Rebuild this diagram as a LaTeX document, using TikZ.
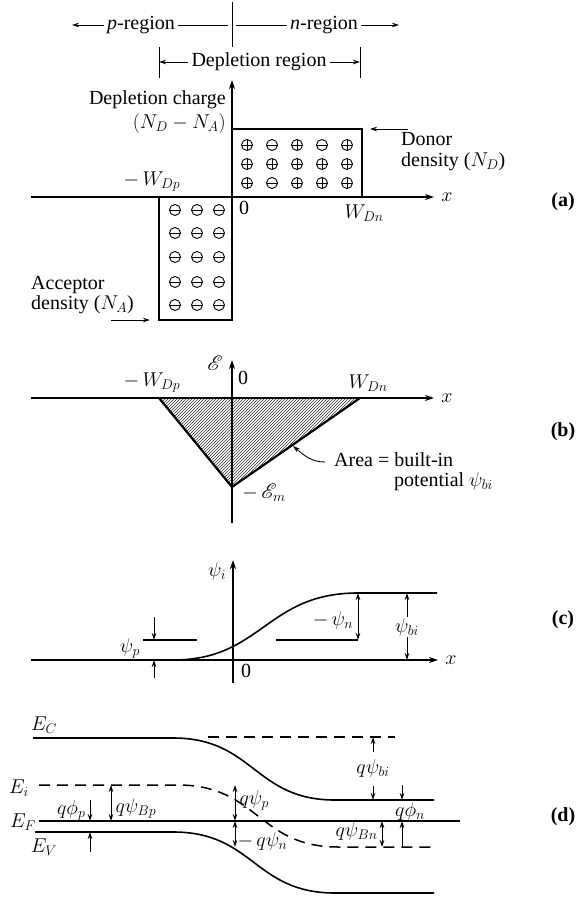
\documentclass[tikz,border=0pt]{standalone}
\usepackage{fix-cm}
\usepackage{amsmath}
\usepackage{amssymb}
\usepackage{mathrsfs}
\usepackage{fontspec}
\setmainfont{Liberation Serif}
\usepackage{tikz}
\usetikzlibrary{arrows.meta,patterns}

\tikzset{
  axisline/.style={line width=1.5pt,-{Stealth[length=9pt,width=6pt]}},
  band/.style={line width=1.6pt},
  boxline/.style={line width=2.2pt},
  lvl/.style={line width=1.5pt,dash pattern=on 11pt off 7pt},
  onearrow/.style={line width=0.9pt,-{Stealth[length=7pt,width=4.5pt]}},
  twoarrow/.style={line width=0.9pt,{Stealth[length=7pt,width=4.5pt]}-{Stealth[length=7pt,width=4.5pt]}},
  ion/.style={circle,draw,line width=0.9pt,inner sep=0pt,minimum size=11pt},
  plusion/.style={ion,path picture={\draw[line width=0.9pt]
    (path picture bounding box.west) -- (path picture bounding box.east)
    (path picture bounding box.north) -- (path picture bounding box.south);}},
  minusion/.style={ion,path picture={\draw[line width=0.9pt]
    (path picture bounding box.west) -- (path picture bounding box.east);}},
  twoline/.style={inner sep=1pt,font=\fontsize{20}{#1}\selectfont},
}

\begin{document}
\begin{tikzpicture}[x=1pt,y=-1pt,font=\fontsize{20}{22}\selectfont]
            \path[use as bounding box,fill=white] (0,0) rectangle (576,897);

            % (a) charge
            \node (preg) at (141,25) {\textit{p}-region};
            \node (nreg) at (324,25) {\textit{n}-region};
            \coordinate (pend) at (72,25);
            \coordinate (pdiv) at (228,25);
            \coordinate (ndiv) at (236,25);
            \coordinate (nend) at (399,25);
            \coordinate (divtop) at (232,2);
            \coordinate (divbot) at (232,47);
            \draw[onearrow] (preg.west) -- (pend);
            \draw[line width=0.9pt] (preg.east) -- (pdiv);
            \draw[line width=0.9pt] (ndiv) -- (nreg.west);
            \draw[onearrow] (nreg.east) -- (nend);
            \draw[line width=1pt] (divtop) -- (divbot);

            \node (dep) at (259,62) {Depletion region};
            \coordinate (depl) at (159,62);
            \coordinate (depr) at (360,62);
            \draw[line width=1pt] (159,47) -- (159,78);
            \draw[line width=1pt] (360,47) -- (360,78);
            \draw[onearrow] (dep.west) -- (depl);
            \draw[onearrow] (dep.east) -- (depr);

            \coordinate (o1) at (232,197);
            \coordinate (a1top) at (232,80);
            \coordinate (a1l) at (31,197);
            \coordinate (a1r) at (434,197);
            \coordinate (wdp) at (159,197);
            \coordinate (wdn) at (362,197);
            \draw[axisline] (a1l) -- (a1r);
            \draw[axisline] (o1) -- (a1top);
            \draw[boxline] (o1) -- (232,129) -- (362,129) -- (wdn);
            \draw[boxline] (wdp) -- (159,320) -- (232,320) -- (o1);

            \foreach \s [count=\i] in {plusion,minusion,plusion,minusion,plusion}
                \node[\s] (donA\i) at ({222+25*\i},145) {};
            \foreach \s [count=\i] in {plusion,plusion,plusion,plusion,plusion}
                \node[\s] (donB\i) at ({222+25*\i},164) {};
            \foreach \s [count=\i] in {plusion,minusion,plusion,plusion,plusion}
                \node[\s] (donC\i) at ({222+25*\i},183) {};
            \foreach \y [count=\j] in {210,233,257,282,305}
                \foreach \x [count=\i] in {175,197,219}
                    \node[minusion] (acc\j\i) at (\x,\y) {};

            \node[twoline=24,align=right,anchor=east] (dch) at (227,112) {Depletion charge\\$(N_D-N_A)$};
            \node[twoline=21,align=left,anchor=west] (don) at (400,152) {Donor\\density ($N_D$)};
            \coordinate (dontail) at (408,129);
            \coordinate (dontip) at (370,129);
            \draw[onearrow] (dontail) -- (dontip);
            \node[twoline=17,align=left,anchor=west] (acc) at (30,295) {Acceptor\\density ($N_A$)};
            \coordinate (acctail) at (111,320);
            \coordinate (acctip) at (150,320);
            \draw[onearrow] (acctail) -- (acctip);
            \node (lwdp) at (152,182) {$-\,W_{Dp}$};
            \node (lz1) at (244,208) {0};
            \node (lwdn) at (364,213) {$W_{Dn}$};
            \node (lx1) at (447,197) {$x$};
            \node (la) at (563,202) {\textbf{(a)}};

            % (b) field
            \coordinate (o2) at (232,398);
            \coordinate (b2l) at (31,398);
            \coordinate (b2r) at (434,398);
            \coordinate (b2bot) at (232,523);
            \coordinate (b2top) at (232,360);
            \coordinate (wdp2) at (159,398);
            \coordinate (wdn2) at (360,398);
            \coordinate (em) at (232,487);
            \fill[pattern=north east lines,pattern color=black!80] (wdp2) -- (wdn2) -- (em) -- cycle;
            \draw[axisline] (b2l) -- (b2r);
            \draw[axisline] (b2bot) -- (b2top);
            \draw[boxline] (wdp2) -- (em) -- (wdn2);
            \node (lfield) at (215,363) {$\mathscr{E}$};
            \node (lz2) at (243,378) {0};
            \node (lwdp2) at (152,383) {$-\,W_{Dp}$};
            \node (lwdn2) at (368,383) {$W_{Dn}$};
            \node (lem) at (264,493) {$-\,\mathscr{E}_m$};
            \node (lx2) at (447,398) {$x$};
            \node[twoline=20,align=left,anchor=north west] (area) at (333,451) {Area = built-in\\\hspace*{60pt}potential $\psi_{bi}$};
            \coordinate (areafoot) at (325,462);
            \coordinate (areatip) at (293,446);
            \draw[onearrow] (areafoot) to[out=180,in=-40] (areatip);
            \node (lb) at (563,432) {\textbf{(b)}};

            % (c) potential
            \coordinate (o3) at (233,660);
            \coordinate (c3l) at (31,660);
            \coordinate (c3r) at (438,660);
            \coordinate (c3bot) at (233,683);
            \coordinate (c3top) at (233,560);
            \draw[axisline] (c3l) -- (c3r);
            \draw[axisline] (c3bot) -- (c3top);
            \draw[band] (173,660) .. controls (262,660) and (266,593) .. (358,593) -- (437,593);
            \node (lpsi) at (217,571) {$\psi_i$};
            \node (lz3) at (246,671) {0};
            \node (lx3) at (451,660) {$x$};

            \draw[line width=1.2pt] (143,640) -- (197,640);
            \draw[onearrow] (154,617) -- (154,640);
            \draw[onearrow] (154,678) -- (154,660);
            \node (lpsip) at (130,648) {$\psi_p$};
            \draw[line width=1.2pt] (276,640) -- (358,640);
            \draw[twoarrow] (358,593) -- (358,640);
            \node (lpsin) at (333,620) {$-\,\psi_n$};
            \draw[twoarrow] (407,593) -- (407,660);
            \node[fill=white,inner sep=1pt] (lpsibi) at (407,627) {$\psi_{bi}$};
            \node (lc) at (563,620) {\textbf{(c)}};

            % (d) band diagram
            \draw[band] (33,738) -- (173,738) .. controls (254,738) and (254,800) .. (335,800) -- (434,800);
            \draw[lvl] (208,737) -- (395,737);
            \draw[lvl] (39,785) -- (178,785) .. controls (258,785) and (258,847) .. (338,847) -- (434,847);
            \draw[line width=1.3pt] (39,821) -- (460,821);
            \draw[band] (35,832) -- (173,832) .. controls (254,832) and (254,893) .. (335,893) -- (434,893);
            \node (lec) at (44,725) {$E_C$};
            \node (lei) at (19,788) {$E_i$};
            \node (lef) at (23,822) {$E_F$};
            \node (lev) at (44,847) {$E_V$};

            \draw[onearrow] (90,800) -- (90,821);
            \draw[onearrow] (90,852) -- (90,832);
            \node[anchor=east] (lqphip) at (89,810) {$q\phi_p$};
            \draw[twoarrow] (111,785) -- (111,821);
            \node[anchor=west] (lqpsibp) at (112,808) {$q\psi_{Bp}$};
            \draw[twoarrow] (235,785) -- (235,821);
            \node[anchor=west] (lqpsip) at (236,800) {$q\psi_p$};
            \draw[twoarrow] (235,821) -- (235,847);
            \node[anchor=west] (lqpsin) at (234,841) {$-\,q\psi_n$};
            \draw[onearrow] (373,752) -- (373,737);
            \draw[onearrow] (373,786) -- (373,800);
            \node (lqpsibi) at (373,768) {$q\psi_{bi}$};
            \draw[onearrow] (402,785) -- (402,800);
            \draw[onearrow] (402,847) -- (402,821);
            \node (lqphin) at (410,811) {$q\phi_n$};
            \draw[twoarrow] (382,821) -- (382,847);
            \node[anchor=east] (lqpsibn) at (381,831) {$q\psi_{Bn}$};
            \node (ld) at (563,817) {\textbf{(d)}};
        \end{tikzpicture}
\end{document}
